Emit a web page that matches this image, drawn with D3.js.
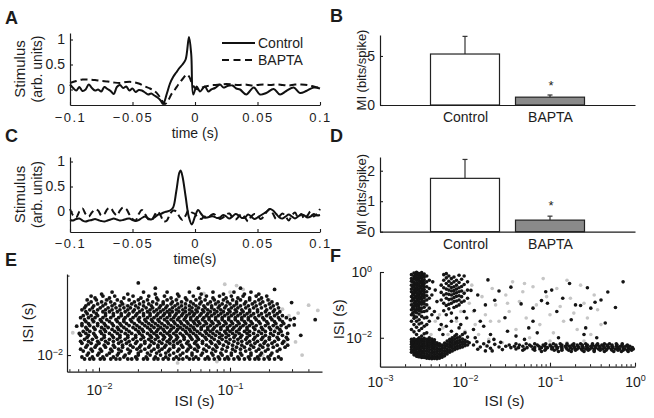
<!DOCTYPE html>
<html><head><meta charset="utf-8">
<script src="https://cdn.jsdelivr.net/npm/d3@7"></script>
<style>
body{margin:0;background:#fff;}
</style></head><body>
<svg id="chart" width="654" height="418"></svg>
<script>
// ---------------- DATA ----------------
const timeTicks = [-0.1, -0.05, 0, 0.05, 0.1];
const stimTicks = [0, 0.5, 1];
const legendLabels = ["Control", "BAPTA"];

// Panel A: spike-triggered stimulus [time (s), value]
const aControl = [[-0.1,0.10],[-0.0975,0.03],[-0.095,-0.02],[-0.0925,0.05],[-0.09,-0.03],[-0.0875,0.0],[-0.085,0.10],[-0.0825,0.03],[-0.08,-0.02],[-0.0775,0.0],[-0.075,-0.04],[-0.0725,0.05],[-0.07,0.01],[-0.0675,-0.03],[-0.065,-0.09],[-0.0625,0.05],[-0.06,0.09],[-0.0575,0.03],[-0.055,0.06],[-0.0525,-0.02],[-0.05,0.02],[-0.0475,-0.05],[-0.045,-0.01],[-0.0425,-0.02],[-0.04,-0.06],[-0.0375,-0.1],[-0.035,-0.08],[-0.0325,-0.12],[-0.03,-0.16],[-0.0275,-0.22],[-0.0255,-0.29],[-0.0225,-0.08],[-0.02,0.12],[-0.0175,0.25],[-0.015,0.34],[-0.0125,0.43],[-0.01,0.5],[-0.0075,0.6],[-0.0048,1.05],[-0.003,0.7],[-0.0014,-0.1],[0.0013,0.06],[0.004,-0.04],[0.0065,0.03],[0.008,0.06],[0.0107,-0.04],[0.013,0.0],[0.016,0.03],[0.02,0.1],[0.0227,0.04],[0.026,0.07],[0.03,0.08],[0.033,0.02],[0.036,0.0],[0.041,-0.1],[0.047,0.04],[0.052,-0.1],[0.057,-0.07],[0.063,0.01],[0.068,-0.1],[0.073,-0.03],[0.079,0.04],[0.084,-0.07],[0.089,-0.03],[0.095,0.04],[0.1,0.02]];
const aBapta = [[-0.1,0.13],[-0.095,0.17],[-0.09,0.2],[-0.085,0.2],[-0.08,0.19],[-0.075,0.17],[-0.07,0.16],[-0.065,0.14],[-0.06,0.13],[-0.055,0.15],[-0.05,0.15],[-0.045,0.12],[-0.04,0.06],[-0.036,0.02],[-0.032,-0.04],[-0.029,-0.12],[-0.027,-0.2],[-0.024,-0.29],[-0.021,-0.2],[-0.019,-0.1],[-0.016,0.0],[-0.0133,0.1],[-0.0093,0.23],[-0.0067,0.3],[-0.0045,0.25],[-0.0027,0.14],[0,0.03],[0.003,0.0],[0.006,0.04],[0.01,0.07],[0.015,0.09],[0.02,0.1],[0.025,0.11],[0.03,0.1],[0.035,0.09],[0.04,0.1],[0.045,0.08],[0.05,0.09],[0.055,0.1],[0.06,0.09],[0.065,0.1],[0.07,0.09],[0.075,0.08],[0.08,0.1],[0.085,0.1],[0.09,0.09],[0.095,0.06],[0.1,0.03]];

// Panel C
const cControl = [[-0.1,-0.17],[-0.0975,-0.18],[-0.095,-0.15],[-0.0925,-0.14],[-0.09,-0.18],[-0.0875,-0.2],[-0.085,-0.18],[-0.0825,-0.17],[-0.08,-0.15],[-0.0775,-0.17],[-0.075,-0.19],[-0.0725,-0.2],[-0.07,-0.18],[-0.0675,-0.16],[-0.065,-0.14],[-0.0625,-0.16],[-0.06,-0.18],[-0.0575,-0.17],[-0.055,-0.15],[-0.0525,-0.14],[-0.05,-0.17],[-0.0475,-0.19],[-0.045,-0.17],[-0.0425,-0.13],[-0.04,-0.1],[-0.0375,-0.14],[-0.035,-0.16],[-0.0325,-0.12],[-0.03,-0.07],[-0.0275,-0.05],[-0.025,-0.02],[-0.0225,0.0],[-0.02,0.02],[-0.0175,0.08],[-0.015,0.4],[-0.0125,0.78],[-0.0115,0.82],[-0.01,0.7],[-0.0075,0.3],[-0.005,-0.1],[-0.0025,-0.26],[0,-0.1],[0.0025,0.03],[0.005,-0.05],[0.0075,-0.12],[0.01,-0.12],[0.0125,-0.1],[0.015,-0.1],[0.0175,-0.13],[0.02,-0.12],[0.0225,-0.07],[0.025,-0.1],[0.0275,-0.14],[0.03,-0.1],[0.0325,-0.05],[0.035,-0.08],[0.0375,-0.13],[0.04,-0.12],[0.0425,-0.06],[0.045,-0.1],[0.0475,-0.15],[0.05,-0.12],[0.0525,-0.08],[0.055,-0.04],[0.0575,0.0],[0.06,0.05],[0.0625,0.02],[0.065,-0.05],[0.0675,-0.12],[0.07,-0.14],[0.0725,-0.1],[0.075,-0.06],[0.0775,-0.1],[0.08,-0.14],[0.0825,-0.1],[0.085,-0.06],[0.0875,-0.08],[0.09,-0.12],[0.0925,-0.1],[0.095,-0.05],[0.0975,-0.08],[0.1,-0.07]];
const cBapta = [[-0.1,0.05],[-0.0975,-0.08],[-0.095,-0.12],[-0.0925,0.0],[-0.09,0.06],[-0.0875,-0.05],[-0.085,-0.1],[-0.0825,-0.02],[-0.08,0.04],[-0.0775,0.02],[-0.075,-0.08],[-0.0725,-0.05],[-0.07,0.05],[-0.0675,0.07],[-0.065,-0.02],[-0.0625,-0.08],[-0.06,0.02],[-0.0575,0.08],[-0.055,0.05],[-0.0525,-0.06],[-0.05,-0.15],[-0.0475,-0.18],[-0.045,-0.05],[-0.0425,0.03],[-0.04,-0.05],[-0.0375,-0.15],[-0.035,-0.18],[-0.0325,-0.08],[-0.03,0.0],[-0.0275,-0.08],[-0.025,-0.2],[-0.0225,-0.18],[-0.02,-0.05],[-0.0175,0.02],[-0.015,0.0],[-0.0125,-0.1],[-0.01,-0.17],[-0.0075,-0.08],[-0.005,0.03],[-0.0025,-0.02],[0,-0.05],[0.0025,-0.12],[0.005,-0.15],[0.0075,-0.1],[0.01,-0.12],[0.0125,-0.08],[0.015,-0.05],[0.0175,-0.1],[0.02,-0.15],[0.0225,-0.12],[0.025,-0.06],[0.0275,-0.04],[0.03,-0.12],[0.0325,-0.16],[0.035,-0.1],[0.0375,-0.05],[0.04,-0.12],[0.0425,-0.2],[0.045,-0.1],[0.0475,-0.05],[0.05,-0.08],[0.0525,-0.15],[0.055,-0.1],[0.0575,0.0],[0.06,0.05],[0.0625,-0.05],[0.065,-0.15],[0.0675,-0.1],[0.07,-0.04],[0.0725,-0.1],[0.075,-0.18],[0.0775,-0.08],[0.08,-0.02],[0.0825,-0.12],[0.085,-0.05],[0.0875,-0.15],[0.09,-0.08],[0.0925,0.0],[0.095,-0.1],[0.0975,-0.05],[0.1,0.05]];

// Panels B and D: mutual information (bits/spike)
const barCategories = ["Control", "BAPTA"];
const bValues = [5.2, 0.8];
const bErrTop = [7.0, 1.02];
const bTicks = [0, 5];
const dValues = [1.75, 0.38];
const dErrTop = [2.37, 0.51];
const dTicks = [0, 1, 2];
const sigMark = ["", "*"];

// Panel E: ISI return map, log10(ISI) x100. Rows: [y, [x...]]
const eBlackRows = [
 [-203,[-211,-207,-204,-199,-196,-191,-187,-184,-178,-175,-171,-166,-163,-158,-155,-151,-147,-143,-139,-136,-131,-128,-124,-119,-116,-112,-108,-104,-101,-97,-93,-89,-85,-81,-78,-74,-70,-66,-61]],
 [-201.5,[-213,-205,-197,-189,-181,-172,-164,-157,-149,-141,-133,-126,-117,-109,-102,-94,-86,-79,-71,-63]],
 [-200,[-209,-201,-194,-186,-180,-170,-161,-153,-146,-138,-129,-122,-113,-106,-99,-91,-84,-77,-69]],
 [-198.5,[-208,-200,-192,-185,-177,-170,-163,-156,-149,-143,-136,-129,-121,-114,-107,-99,-92,-84,-76,-68]],
 [-197,[-212,-205,-198,-190,-183,-176,-168,-160,-154,-147,-140,-133,-125,-118,-111,-103,-96,-88,-80,-73,-64]],
 [-195.5,[-214,-206,-199,-191,-185,-178,-171,-165,-158,-152,-146,-139,-132,-127,-120,-113,-106,-98,-92,-85,-78,-71,-62]],
 [-194,[-210,-203,-195,-188,-182,-174,-169,-162,-155,-150,-143,-136,-130,-124,-116,-110,-102,-95,-89,-82,-75,-67,-58]],
 [-192.5,[-209,-202,-196,-189,-182,-176,-168,-161,-155,-149,-143,-137,-131,-125,-118,-111,-105,-98,-91,-84,-77,-71,-64,-56]],
 [-191,[-213,-206,-200,-193,-185,-179,-172,-165,-158,-152,-146,-140,-133,-127,-121,-114,-108,-101,-94,-87,-81,-74,-68,-60]],
 [-189.5,[-214,-208,-201,-195,-189,-183,-177,-171,-165,-160,-154,-148,-143,-138,-132,-126,-121,-115,-109,-103,-97,-91,-85,-79,-73,-66,-59]],
 [-188,[-211,-205,-198,-192,-186,-180,-174,-168,-162,-157,-151,-146,-141,-135,-129,-124,-118,-112,-106,-100,-94,-88,-82,-76,-70,-63,-56]],
 [-186.5,[-209,-202,-196,-189,-184,-178,-172,-166,-160,-155,-150,-145,-140,-135,-130,-125,-119,-114,-108,-103,-97,-92,-87,-81,-75,-70,-64,-57]],
 [-185,[-214,-208,-203,-196,-190,-184,-178,-172,-167,-161,-156,-151,-146,-141,-136,-131,-126,-121,-116,-111,-106,-101,-96,-91,-85,-79,-73,-67,-60]],
 [-183.5,[-215,-210,-204,-198,-192,-186,-180,-175,-169,-163,-158,-153,-148,-143,-138,-133,-128,-123,-118,-113,-108,-103,-98,-93,-87,-82,-76,-69,-63,-56]],
 [-182,[-212,-207,-199,-195,-188,-183,-177,-170,-166,-160,-156,-150,-146,-141,-134,-130,-125,-119,-115,-110,-104,-100,-95,-89,-85,-78,-73,-66,-61]],
 [-180.5,[-209,-203,-196,-190,-185,-179,-172,-167,-161,-155,-151,-145,-140,-136,-131,-127,-122,-117,-113,-107,-102,-98,-93,-87,-81,-75,-69,-62]],
 [-179,[-210,-204,-198,-193,-186,-181,-174,-169,-163,-158,-153,-148,-143,-138,-133,-128,-122,-117,-112,-107,-102,-97,-92,-87,-82,-76,-70,-64,-57]],
 [-177.5,[-213,-207,-201,-195,-189,-183,-177,-171,-165,-160,-155,-150,-145,-140,-135,-130,-125,-120,-115,-110,-105,-100,-95,-90,-85,-80,-73,-67,-61,-55]],
 [-176,[-213,-208,-201,-196,-190,-184,-179,-173,-167,-162,-157,-152,-147,-142,-137,-132,-127,-123,-118,-113,-108,-103,-98,-93,-88,-83,-77,-71,-65,-59]],
 [-174.5,[-210,-204,-198,-192,-186,-181,-175,-169,-164,-159,-154,-148,-143,-138,-133,-128,-124,-119,-114,-109,-104,-99,-94,-89,-84,-78,-72,-66,-60]],
 [-173,[-211,-205,-199,-194,-187,-181,-176,-170,-165,-160,-155,-150,-145,-140,-135,-130,-126,-121,-116,-111,-106,-101,-96,-91,-86,-80,-74,-68,-62,-54]],
 [-171.5,[-214,-208,-203,-197,-191,-185,-180,-174,-169,-163,-158,-153,-148,-143,-139,-134,-130,-125,-120,-116,-111,-106,-101,-96,-91,-86,-81,-75,-69,-63,-57]],
 [-170,[-212,-206,-201,-195,-189,-183,-178,-172,-166,-161,-156,-151,-146,-142,-137,-133,-128,-123,-118,-114,-109,-104,-99,-94,-89,-84,-78,-72,-66,-60]],
 [-168.5,[-209,-202,-195,-189,-183,-177,-171,-166,-161,-155,-150,-146,-141,-136,-131,-127,-122,-117,-112,-107,-102,-97,-92,-87,-82,-76,-70,-64]],
 [-167,[-210,-204,-197,-192,-186,-180,-174,-169,-163,-158,-153,-148,-144,-139,-134,-129,-125,-120,-115,-110,-105,-100,-95,-90,-85,-79,-73,-67,-62]],
 [-165.5,[-213,-207,-201,-195,-190,-184,-178,-173,-167,-161,-156,-151,-146,-141,-136,-131,-126,-121,-117,-112,-107,-101,-96,-91,-85,-79,-72,-66]],
 [-164,[-211,-205,-199,-193,-187,-181,-176,-170,-164,-159,-154,-149,-144,-139,-134,-129,-124,-119,-114,-109,-104,-99,-94,-88,-82,-76,-69,-63]],
 [-162.5,[-210,-204,-197,-190,-184,-178,-172,-166,-160,-153,-148,-142,-137,-131,-126,-120,-114,-108,-103,-97,-92,-86,-80,-73,-67]],
 [-161,[-208,-201,-195,-188,-182,-175,-169,-162,-156,-151,-145,-140,-134,-128,-123,-117,-111,-106,-100,-95,-89,-83,-77,-70,-64]],
 [-159.5,[-206,-198,-191,-183,-173,-166,-159,-151,-144,-137,-130,-122,-115,-109,-102,-95,-88,-81,-75,-68]],
 [-158,[-209,-202,-194,-186,-177,-170,-163,-155,-148,-141,-133,-126,-119,-112,-105,-98,-92,-85,-78,-71]],
 [-156.5,[-203,-192,-181,-168,-156,-145,-134,-123,-113,-103,-94,-85,-76]],
 [-155,[-206,-197,-188,-174,-162,-150,-139,-128,-118,-108,-99,-90,-80,-72]],
 [-153.5,[-198,-178,-157,-140,-122,-105,-89,-78]],
 [-152,[-190,-166,-148,-131,-113,-97,-84]],
 [-149,[-157,-124,-92]]
];
const eBlackExtra = [[-170,-145],[-46,-185],[-35,-173],[-51,-172],[-51,-177],[-217,-178],[-53,-160],[-66,-150]];
const eGrey = [[-195,-158],[-180,-162],[-150,-155],[-140,-157],[-120,-153],[-100,-152],[-90,-150],[-80,-155],[-70,-158],[-60,-165],[-55,-170],[-48,-168],[-40,-162],[-33,-166],[-58,-190],[-62,-196],[-75,-200],[-110,-205],[-140,-206],[-180,-201],[-200,-190],[-205,-175],[-220,-183],[-130,-180],[-115,-176],[-95,-183],[-85,-190],[-160,-186],[-170,-172],[-100,-168],[-125,-195],[-145,-192],[-65,-180],[-45,-200],[-50,-190],[-104,-146],[-95,-147]];

// Panel F: log10(ISI) x100. Columns: [x, [y...]], rows: [y, [x...]]
const fBlackCols = [
 [-263,[-8,-20,-28,-40,-52,-60,-75,-88,-100,-115,-130,-150,-175,-205,-212,-220,-228,-236,-244]],
 [-261.5,[-30,-45,-67,-82,-108,-125,-212,-224,-240]],
 [-260,[-3,-14,-22,-31,-38,-46,-55,-63,-70,-79,-86,-95,-104,-112,-122,-133,-141,-160,-182,-203,-210,-217,-224,-231,-238,-246,-252]],
 [-258.5,[-8,-18,-35,-50,-60,-76,-92,-100,-118,-208,-221,-235,-248]],
 [-257,[-1,-10,-17,-25,-33,-41,-48,-56,-64,-72,-80,-88,-96,-105,-114,-124,-137,-150,-168,-190,-206,-213,-220,-227,-234,-242,-250,-256]],
 [-255.5,[-4,-22,-38,-53,-69,-85,-102,-115,-205,-217,-230,-246,-257]],
 [-254,[-5,-13,-20,-28,-36,-43,-51,-59,-67,-75,-83,-91,-99,-108,-118,-128,-145,-158,-178,-200,-208,-215,-222,-229,-236,-244,-252,-258]],
 [-252.5,[-15,-32,-47,-63,-80,-94,-112,-210,-226,-239,-254]],
 [-251,[-2,-9,-18,-26,-34,-42,-50,-58,-66,-74,-82,-90,-98,-110,-121,-135,-155,-172,-195,-204,-211,-218,-225,-232,-240,-248,-255,-260]],
 [-249.5,[-10,-28,-40,-56,-72,-92,-207,-221,-244,-258]],
 [-248,[-6,-15,-24,-35,-45,-53,-62,-70,-78,-88,-97,-107,-120,-140,-165,-188,-202,-209,-216,-223,-230,-238,-246,-254,-260]],
 [-245,[-12,-30,-45,-60,-72,-85,-100,-118,-138,-160,-185,-205,-212,-219,-226,-233,-241,-249,-257,-262]],
 [-242,[-25,-50,-80,-110,-150,-200,-207,-214,-221,-228,-236,-244,-252,-259,-263]],
 [-239,[-70,-130,-204,-210,-217,-224,-231,-239,-247,-255,-261,-264]],
 [-236,[-206,-213,-220,-227,-235,-243,-251,-258,-263]],
 [-233,[-215,-223,-231,-239,-247,-255,-261,-264]],
 [-230,[-218,-226,-234,-242,-250,-257,-262]],
 [-227,[-222,-230,-238,-246,-253,-259]],
 [-224,[-216,-224,-232,-240,-248,-255]],
 [-221,[-210,-218,-226,-234,-242,-249]],
 [-218,[-205,-213,-221,-229,-237,-244]],
 [-215,[-200,-208,-216,-224,-232,-240]],
 [-212,[-195,-204,-212,-220,-228,-236]],
 [-209,[-200,-209,-217,-225,-233]],
 [-206,[-197,-206,-214,-222,-230]],
 [-203,[-190,-204,-212,-220,-228]],
 [-200,[-185,-208,-216,-224]],
 [-197,[-198,-212,-222]],
 [-228,[-40,-62,-85]],
 [-225,[-8,-25,-48,-70,-95,-118]],
 [-222,[-5,-18,-35,-52,-66,-80,-102,-130,-165]],
 [-219,[-12,-28,-42,-55,-68,-84,-98,-112]],
 [-216,[-20,-35,-47,-58,-70,-82,-95,-125,-150,-180]],
 [-213,[-15,-30,-45,-56,-66,-78,-90,-108]],
 [-210,[-25,-40,-52,-63,-74,-88,-104,-140]],
 [-207,[-10,-32,-48,-60,-72,-85,-100,-170]],
 [-204,[-22,-44,-58,-75,-92]],
 [-201,[-12,-38,-65,-88,-120]],
 [-197,[-30,-55,-80]]
];
const fBlackRows = [
 [-218,[-140,-128,-118,-105,-96,-88,-80,-72,-64,-58,-50,-44,-36,-30,-22,-15]],
 [-222,[-148,-136,-124,-115,-108,-100,-93,-86,-80,-74,-68,-62,-56,-50,-45,-39,-33,-27,-21,-15,-9]],
 [-226,[-152,-142,-132,-122,-113,-106,-99,-93,-87,-82,-77,-72,-67,-62,-57,-52,-47,-42,-37,-32,-27,-22,-17,-11,-6]],
 [-230,[-146,-137,-127,-118,-110,-103,-97,-91,-86,-81,-76,-71,-66,-61,-56,-51,-46,-41,-36,-31,-26,-20,-14,-8,-3]],
 [-234,[-140,-130,-120,-112,-105,-98,-92,-86,-80,-74,-68,-63,-58,-53,-48,-43,-38,-33,-28,-23,-18,-12,-6,-2]],
 [-238,[-132,-118,-106,-95,-86,-78,-70,-62,-55,-48,-41,-34,-27,-20,-14,-9,-4]],
 [-242,[-110,-90,-75,-60,-48,-36,-25,-16,-8]]
];
const fBlackExtra = [[-195,-215],[-190,-222],[-186,-212],[-182,-228],[-178,-218],[-174,-225],[-170,-232],[-165,-220],[-160,-228],[-156,-236],[-158,-214],[-168,-240],[-185,-235],[-176,-240],
 [-193,-56],[-185,-70],[-173,-24],[-189,-117],[-165,-86],[-153,-139],[-146,-46],[-134,-97],[-176,-100],[-160,-58],[-198,-140],[-205,-160],[-190,-175],[-178,-165],[-170,-190],[-150,-180],[-140,-195],[-125,-170],[-120,-110],[-110,-87],[-103,-95],[-98,-55],[-92,-120],[-85,-80],[-77,-35],[-75,-145],[-70,-100],[-64,-102],[-58,-170],[-52,-110],[-47,-92],[-40,-85],[-35,-155],[-32,-61],[-23,-108],[-14,-30],[-60,-190],[-90,-200],[-130,-205],[-115,-185],[-188,-200],[-210,-190],[-230,-175],[-236,-120],[-233,-90],[-182,-150],[-166,-205],[-172,-212],[-56,-48],[-105,-60],[-120,-150],[-45,-200],[-238,-30],[-235,-55],[-232,-140],[-228,-160],[-226,-190]];
const fGrey = [[-235,-150],[-230,-130],[-226,-170],[-220,-190],[-214,-200],[-205,-120],[-200,-180],[-195,-95],[-192,-40],[-188,-160],[-184,-190],[-180,-75],[-176,-130],[-172,-205],[-168,-50],[-164,-100],[-160,-150],[-156,-215],[-152,-70],[-148,-120],[-144,-30],[-140,-175],[-136,-90],[-132,-60],[-128,-140],[-124,-200],[-120,-45],[-116,-100],[-112,-160],[-108,-20],[-104,-75],[-100,-130],[-96,-185],[-92,-50],[-88,-105],[-84,-150],[-80,-25],[-76,-80],[-72,-125],[-68,-175],[-64,-40],[-60,-95],[-56,-140],[-52,-190],[-48,-70],[-44,-115],[-40,-160],[-130,-35],[-150,-95],[-170,-150],[-190,-120],[-210,-150],[-240,-190],[-245,-140],[-200,-60],[-118,-225],[-100,-210],[-80,-215],[-60,-210],[-140,-230],[-175,-225],[-205,-225],[-220,-235]];

const eXMajor = [0.01, 0.1];
const eXMinor = [0.006,0.007,0.008,0.009,0.02,0.03,0.04,0.05,0.06,0.07,0.08,0.09,0.2,0.3,0.4];
const eYMajor = [0.01];
const eYMinor = [0.04];
const fXMajor = [0.001, 0.01, 0.1, 1];
const fXMinor = [0.002,0.003,0.004,0.005,0.006,0.007,0.008,0.009,0.02,0.03,0.04,0.05,0.06,0.07,0.08,0.09,0.2,0.3,0.4,0.5,0.6,0.7,0.8,0.9];
const fYMajor = [1, 0.01];

// ---------------- DRAWING ----------------
const FONT = '"Liberation Sans", Arial, Helvetica, sans-serif';
const INK = "#1c1c1c";
const svg = d3.select("#chart");

function styleAxis(g, size) {
  g.attr("font-family", FONT).attr("font-size", size);
  g.select(".domain").attr("stroke", INK).attr("stroke-width", 1.2);
  g.selectAll(".tick line").attr("stroke", INK).attr("stroke-width", 1.1);
  g.selectAll(".tick text").attr("fill", INK);
}
function addText(x, y, txt, opt = {}) {
  const t = svg.append("text").attr("x", x).attr("y", y).text(txt)
    .attr("font-family", FONT).attr("font-size", opt.size || 14)
    .attr("fill", INK).attr("text-anchor", opt.anchor || "middle");
  if (opt.bold) t.attr("font-weight", "bold");
  if (opt.rotate) t.attr("transform", `rotate(-90,${x},${y})`).attr("dy", "0.35em");
  return t;
}
function powLabels(sel) {
  sel.each(function(d) {
    const t = d3.select(this);
    const e = Math.round(Math.log10(d));
    t.text(null);
    t.append("tspan").text("10");
    t.append("tspan").attr("dy", "-0.6em").attr("font-size", "9px").text(e < 0 ? "\u2212" + (-e) : String(e));
  });
}

// Panel letters
addText(5, 24, "A", {size: 18, bold: true, anchor: "start"});
addText(330, 22, "B", {size: 18, bold: true, anchor: "start"});
addText(5, 142, "C", {size: 18, bold: true, anchor: "start"});
addText(330, 142, "D", {size: 18, bold: true, anchor: "start"});
addText(5, 266, "E", {size: 18, bold: true, anchor: "start"});
addText(330, 262, "F", {size: 18, bold: true, anchor: "start"});

function tracePanel(cfg) {
  const x = d3.scaleLinear().domain([-0.1, 0.1]).range([70, 320]);
  const y = d3.scaleLinear().domain(cfg.yDomain).range([cfg.bottom, cfg.top]);
  const line = d3.line().x(d => x(d[0])).y(d => y(d[1])).curve(d3.curveCatmullRom.alpha(0.5));
  svg.append("path").datum(cfg.control).attr("d", line).attr("fill", "none")
    .attr("stroke", "#111").attr("stroke-width", 2);
  svg.append("path").datum(cfg.bapta).attr("d", line).attr("fill", "none")
    .attr("stroke", "#111").attr("stroke-width", 2).attr("stroke-dasharray", "7,4");
  const gx = svg.append("g").attr("transform", `translate(0,${cfg.bottom})`)
    .call(d3.axisBottom(x).tickValues(timeTicks).tickFormat(d3.format("")).tickSizeInner(-3).tickSizeOuter(0).tickPadding(cfg.xPad));
  styleAxis(gx, 13);
  gx.selectAll(".tick text").attr("letter-spacing", "1.5px");
  const gy = svg.append("g").attr("transform", "translate(70,0)")
    .call(d3.axisLeft(y).tickValues(stimTicks).tickFormat(d3.format("")).tickSizeInner(-3).tickSizeOuter(0).tickPadding(5));
  styleAxis(gy, 14);
  const mid = (cfg.top + cfg.bottom) / 2;
  addText(20, mid, "Stimulus", {rotate: true, size: 15});
  addText(37, mid, "(arb. units)", {rotate: true, size: 14});
  addText(195, cfg.xlabY, cfg.xlabel, {size: 14});
}
tracePanel({control: aControl, bapta: aBapta, yDomain: [-0.31, 1.13], top: 33, bottom: 105, xlabel: "time (s)", xlabY: 138, xPad: 8});
tracePanel({control: cControl, bapta: cBapta, yDomain: [-0.41, 1.09], top: 157, bottom: 232, xlabel: "time(s)", xlabY: 264, xPad: 7});

// legend (panel A)
const legY = [43, 60];
legendLabels.forEach((lab, i) => {
  svg.append("line").attr("x1", 222).attr("x2", 255).attr("y1", legY[i]).attr("y2", legY[i])
    .attr("stroke", "#111").attr("stroke-width", 2).attr("stroke-dasharray", i ? "7,4.5" : null);
  addText(258, legY[i] + 5, lab, {anchor: "start", size: 14});
});

function barPanel(cfg) {
  const x = d3.scalePoint().domain(["l", ...barCategories, "r"]).range([380, 635]);
  const y = d3.scaleLinear().domain([0, cfg.yMax]).range([cfg.bottom, cfg.top]);
  const w = 69;
  const fills = ["#ffffff", "#8a8a8a"];
  barCategories.forEach((c, i) => {
    svg.append("line").attr("x1", x(c)).attr("x2", x(c)).attr("y1", y(cfg.values[i])).attr("y2", y(cfg.err[i]))
      .attr("stroke", "#333").attr("stroke-width", 1.2);
    svg.append("line").attr("x1", x(c) - 2.5).attr("x2", x(c) + 2.5).attr("y1", y(cfg.err[i])).attr("y2", y(cfg.err[i]))
      .attr("stroke", "#333").attr("stroke-width", 1.2);
    svg.append("rect").attr("x", x(c) - w / 2).attr("width", w)
      .attr("y", y(cfg.values[i])).attr("height", y(0) - y(cfg.values[i]))
      .attr("fill", fills[i]).attr("stroke", "#222").attr("stroke-width", 1.2);
    if (sigMark[i]) addText(x(c) + 1, cfg.starY, sigMark[i], {size: 13});
  });
  const gx = svg.append("g").attr("transform", `translate(0,${cfg.bottom})`)
    .call(d3.axisBottom(x).tickValues(barCategories).tickSize(0).tickPadding(7));
  styleAxis(gx, 14);
  const gy = svg.append("g").attr("transform", "translate(380,0)")
    .call(d3.axisLeft(y).tickValues(cfg.ticks).tickFormat(d3.format("")).tickSizeInner(-3).tickSizeOuter(0).tickPadding(5));
  styleAxis(gy, 14);
  addText(361, (cfg.top + cfg.bottom) / 2, "MI (bits/spike)", {rotate: true, size: 13});
}
barPanel({values: bValues, err: bErrTop, ticks: bTicks, yMax: 7.14, top: 35, bottom: 105, starY: 90});
barPanel({values: dValues, err: dErrTop, ticks: dTicks, yMax: 2.45, top: 157, bottom: 231.7, starY: 210});

// scatter helpers
const p10 = v => Math.pow(10, v / 100);
function rowsToPts(rows) { return rows.flatMap(([yv, xs]) => xs.map(xv => [xv, yv])); }
function colsToPts(cols) { return cols.flatMap(([xv, ys]) => ys.map(yv => [xv, yv])); }

function logPanel(cfg) {
  const x = d3.scaleLog().domain(cfg.xDomain).range([cfg.left, cfg.right]);
  const y = d3.scaleLog().domain(cfg.yDomain).range([cfg.bottom, cfg.top]);
  const g = svg.append("g");
  g.selectAll("circle.g").data(cfg.grey).join("circle")
    .attr("cx", d => x(p10(d[0]))).attr("cy", d => y(p10(d[1]))).attr("r", cfg.r)
    .attr("fill", "#c6c6c6");
  g.selectAll("circle.b").data(cfg.black).join("circle")
    .attr("cx", d => x(p10(d[0]))).attr("cy", d => y(p10(d[1]))).attr("r", cfg.r)
    .attr("fill", "#151515");
  const gx = svg.append("g").attr("transform", `translate(0,${cfg.bottom})`)
    .call(d3.axisBottom(x).tickValues(cfg.xMajor).tickSizeInner(-4).tickSizeOuter(0).tickPadding(cfg.xPad));
  styleAxis(gx, 14);
  gx.selectAll(".tick text").call(powLabels);
  gx.selectAll("line.minor").data(cfg.xMinor).join("line").attr("class", "minor")
    .attr("x1", d => x(d)).attr("x2", d => x(d)).attr("y1", 0).attr("y2", -2.5)
    .attr("stroke", INK).attr("stroke-width", 1);
  const gy = svg.append("g").attr("transform", `translate(${cfg.left},0)`)
    .call(d3.axisLeft(y).tickValues(cfg.yMajor).tickSizeInner(-4).tickSizeOuter(0).tickPadding(cfg.yPad));
  styleAxis(gy, 14);
  gy.selectAll(".tick text").call(powLabels);
  gy.selectAll("line.minor").data(cfg.yMinor).join("line").attr("class", "minor")
    .attr("y1", d => y(d)).attr("y2", d => y(d)).attr("x1", 0).attr("x2", 2.5)
    .attr("stroke", INK).attr("stroke-width", 1);
  addText(cfg.ylabX, (cfg.top + cfg.bottom) / 2, "ISI (s)", {rotate: true, size: 15});
  addText((cfg.left + cfg.right) / 2 + cfg.xlabShift, 406, "ISI (s)", {size: 15});
}

logPanel({
  xDomain: [p10(-224.4), p10(-29.8)], yDomain: [p10(-212.7), p10(-138.2)],
  left: 67, right: 322, top: 274, bottom: 371.7,
  grey: eGrey, black: [...rowsToPts(eBlackRows), ...eBlackExtra], r: 1.9,
  xMajor: eXMajor, xMinor: eXMinor, yMajor: eYMajor, yMinor: eYMinor,
  xPad: 13, yPad: 4, ylabX: 28, xlabShift: 0
});
logPanel({
  xDomain: [1e-3, 1], yDomain: [p10(-288), 1],
  left: 380, right: 635, top: 272, bottom: 366.7,
  grey: fGrey, black: [...colsToPts(fBlackCols), ...rowsToPts(fBlackRows), ...fBlackExtra], r: 1.8,
  xMajor: fXMajor, xMinor: fXMinor, yMajor: fYMajor, yMinor: [],
  xPad: 10, yPad: 8, ylabX: 339, xlabShift: -3
});
</script></body></html>
